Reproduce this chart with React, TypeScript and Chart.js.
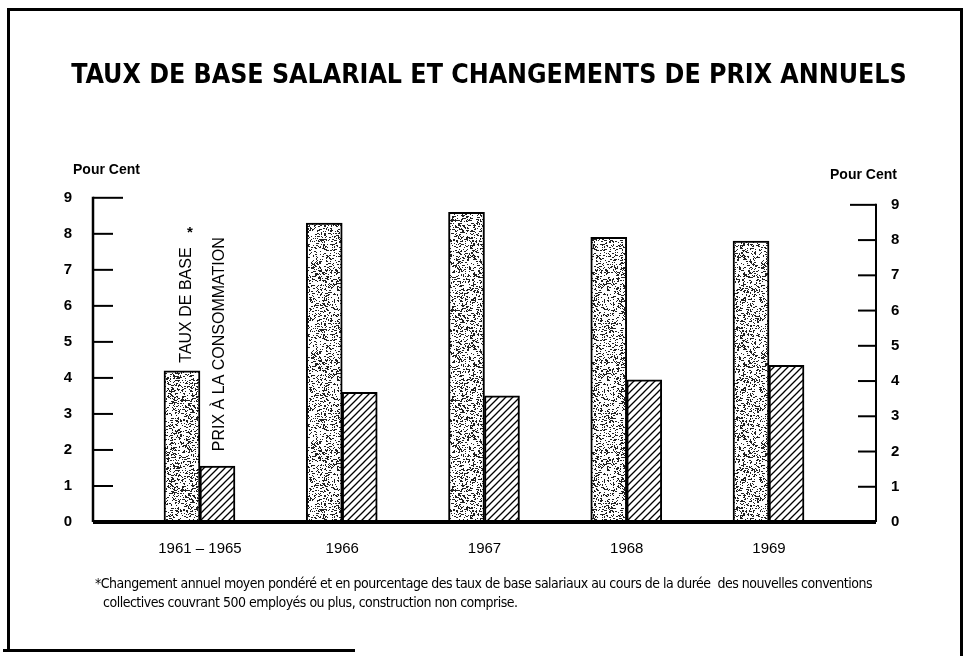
import React, { useEffect, useRef } from "react";
import { Chart, registerables } from "chart.js";

Chart.register(...registerables);

// ---- data ----
const categories = ["1961 – 1965", "1966", "1967", "1968", "1969"];
const tauxDeBase = [4.2, 8.3, 8.6, 7.9, 7.8];
const prixConsommation = [1.55, 3.6, 3.5, 3.95, 4.35];
const yTickValues = [0, 1, 2, 3, 4, 5, 6, 7, 8, 9];
const titleText = "TAUX DE BASE SALARIAL ET CHANGEMENTS DE PRIX ANNUELS";
const axisUnit = "Pour Cent";
const barLabelTaux = "TAUX DE BASE";
const barLabelPrix = "PRIX À LA CONSOMMATION";
const footnoteLines = [
  "*Changement annuel moyen pondéré et en pourcentage des taux de base salariaux au cours de la durée  des nouvelles conventions",
  "collectives couvrant 500 employés ou plus, construction non comprise.",
];

const SANS = "'Liberation Sans', Arial, sans-serif";
const NARROW = "'Liberation Sans Narrow', 'DejaVu Sans Condensed', sans-serif";

function makeStipple(): CanvasPattern | string {
  const n = 90;
  const c = document.createElement("canvas");
  c.width = n;
  c.height = n;
  const g = c.getContext("2d");
  if (!g) return "#bbb";
  g.fillStyle = "#fff";
  g.fillRect(0, 0, n, n);
  let s = 987654321;
  const rnd = () => {
    s = (Math.imul(s, 1103515245) + 12345) >>> 0;
    return (s >>> 8) / 16777216;
  };
  g.fillStyle = "#222";
  for (let i = 0; i < 2100; i++) {
    const x = Math.floor(rnd() * n);
    const y = Math.floor(rnd() * n);
    const w = rnd() < 0.25 ? 2 : 1;
    g.fillRect(x, y, w, 1);
  }
  return g.createPattern(c, "repeat") || "#bbb";
}

function makeHatch(): CanvasPattern | string {
  const n = 7;
  const c = document.createElement("canvas");
  c.width = n;
  c.height = n;
  const g = c.getContext("2d");
  if (!g) return "#888";
  g.fillStyle = "#fff";
  g.fillRect(0, 0, n, n);
  g.strokeStyle = "#000";
  g.lineWidth = 1.3;
  g.beginPath();
  g.moveTo(0, n);
  g.lineTo(n, 0);
  g.moveTo(-1, 1);
  g.lineTo(1, -1);
  g.moveTo(n - 1, n + 1);
  g.lineTo(n + 1, n - 1);
  g.stroke();
  return g.createPattern(c, "repeat") || "#888";
}

const decorPlugin = {
  id: "decor",
  beforeDraw(chart: any) {
    const ctx = chart.ctx;
    ctx.save();
    ctx.fillStyle = "#fff";
    ctx.fillRect(0, 0, chart.width, chart.height);
    ctx.restore();
  },
  afterDatasetsDraw(chart: any) {
    const ctx = chart.ctx;
    const yL = chart.scales.y;
    const yR = chart.scales.yRight;
    const area = chart.chartArea;
    ctx.save();
    ctx.strokeStyle = "#000";
    ctx.lineCap = "butt";

    // left axis line and inward ticks
    ctx.lineWidth = 2.5;
    ctx.beginPath();
    ctx.moveTo(area.left, yL.getPixelForValue(9) - 1);
    ctx.lineTo(area.left, yL.getPixelForValue(0));
    ctx.stroke();
    ctx.lineWidth = 2;
    yTickValues.forEach((v) => {
      if (v === 0) return;
      const y = yL.getPixelForValue(v);
      ctx.beginPath();
      ctx.moveTo(area.left, y);
      ctx.lineTo(area.left + (v === 9 ? 30 : 20), y);
      ctx.stroke();
    });

    // right axis line and inward ticks
    ctx.lineWidth = 2;
    ctx.beginPath();
    ctx.moveTo(area.right, yR.getPixelForValue(9) - 1);
    ctx.lineTo(area.right, yR.getPixelForValue(0));
    ctx.stroke();
    yTickValues.forEach((v) => {
      if (v === 0) return;
      const y = yR.getPixelForValue(v);
      ctx.beginPath();
      ctx.moveTo(area.right, y);
      ctx.lineTo(area.right - (v === 9 ? 26 : 18), y);
      ctx.stroke();
    });

    // baseline
    ctx.lineWidth = 4;
    ctx.beginPath();
    ctx.moveTo(area.left, yL.getPixelForValue(0));
    ctx.lineTo(area.right, yL.getPixelForValue(0));
    ctx.stroke();

    // rotated bar labels on the first group
    const b0 = chart.getDatasetMeta(0).data[0];
    const b1 = chart.getDatasetMeta(1).data[0];
    ctx.fillStyle = "#000";
    ctx.font = `16px ${SANS}`;
    ctx.textAlign = "left";
    ctx.textBaseline = "alphabetic";
    const capH = 11.5;
    // TAUX DE BASE
    ctx.save();
    ctx.translate(b0.x + 3 + capH / 2, b0.y - 8);
    ctx.rotate(-Math.PI / 2);
    ctx.fillText(barLabelTaux, 0, 0);
    const wTaux = ctx.measureText(barLabelTaux).width;
    ctx.restore();
    ctx.font = `bold 15px ${SANS}`;
    ctx.textAlign = "center";
    ctx.textBaseline = "top";
    ctx.fillText("*", b0.x + 8, b0.y - 8 - wTaux - 22);
    // PRIX A LA CONSOMMATION
    ctx.font = `16px ${SANS}`;
    ctx.textAlign = "left";
    ctx.textBaseline = "alphabetic";
    ctx.save();
    ctx.translate(b1.x + 1 + capH / 2, b1.y - 15);
    ctx.rotate(-Math.PI / 2);
    ctx.fillText(barLabelPrix, 0, 0);
    ctx.restore();

    ctx.restore();
  },
  afterDraw(chart: any) {
    const ctx = chart.ctx;
    ctx.save();
    ctx.fillStyle = "#000";
    // unit labels
    ctx.font = `bold 14px ${SANS}`;
    ctx.textAlign = "left";
    ctx.textBaseline = "middle";
    ctx.fillText(axisUnit, 73, 170);
    ctx.fillText(axisUnit, 830, 175);
    // footnote
    ctx.font = `14px ${NARROW}`;
    (ctx as any).letterSpacing = "-0.5px";
    ctx.textBaseline = "alphabetic";
    ctx.fillText(footnoteLines[0], 95, 588);
    ctx.fillText(footnoteLines[1], 103, 607);
    (ctx as any).letterSpacing = "0px";
    // frame
    ctx.strokeStyle = "#000";
    ctx.lineWidth = 3;
    ctx.beginPath();
    ctx.moveTo(8.5, 652);
    ctx.lineTo(8.5, 9.5);
    ctx.lineTo(961.5, 9.5);
    ctx.lineTo(961.5, 656);
    ctx.stroke();
    ctx.beginPath();
    ctx.moveTo(3, 650.5);
    ctx.lineTo(355, 650.5);
    ctx.stroke();
    ctx.restore();
  },
};

export default function App() {
  const ref = useRef<HTMLCanvasElement | null>(null);

  useEffect(() => {
    const canvas = ref.current;
    if (!canvas) return;
    const stipple = makeStipple();
    const hatch = makeHatch();
    const chart = new Chart(canvas, {
      type: "bar",
      data: {
        datasets: [
          {
            label: barLabelTaux,
            data: tauxDeBase.map((v, i) => ({ x: i, y: v })),
            backgroundColor: stipple as any,
            borderColor: "#000",
            borderWidth: 2,
            borderSkipped: false,
            barThickness: 36,
          },
          {
            label: barLabelPrix,
            data: prixConsommation.map((v, i) => ({ x: i, y: v })),
            backgroundColor: hatch as any,
            borderColor: "#000",
            borderWidth: 2,
            borderSkipped: false,
            barThickness: 35,
          },
        ],
      },
      options: {
        responsive: false,
        animation: false,
        events: [],
        layout: { padding: { left: 10, right: 0, top: 0, bottom: 94 } },
        plugins: {
          legend: { display: false },
          tooltip: { enabled: false },
          title: {
            display: true,
            text: titleText,
            color: "#000",
            font: { family: "'DejaVu Sans Condensed', sans-serif", size: 26.5, weight: "bold" },
            padding: { top: 60, bottom: 106 },
          },
        },
        scales: {
          x: {
            type: "linear",
            min: -0.752,
            max: 4.752,
            offset: false,
            grid: { display: false, drawTicks: false },
            border: { display: false },
            afterBuildTicks: (scale: any) => {
              scale.ticks = categories.map((_, i) => ({ value: i }));
            },
            afterFit: (scale: any) => {
              scale.height = 40;
            },
            ticks: {
              color: "#000",
              padding: 18,
              autoSkip: false,
              maxRotation: 0,
              font: { family: SANS, size: 15 },
              callback: (v: any) => categories[v] ?? "",
            },
          },
          y: {
            position: "left",
            min: 0,
            max: 9,
            grid: { display: false, drawTicks: false },
            border: { display: false },
            afterBuildTicks: (scale: any) => {
              scale.ticks = yTickValues.map((v) => ({ value: v }));
            },
            afterFit: (scale: any) => {
              scale.width = 83;
            },
            ticks: {
              color: "#000",
              padding: 21,
              font: { family: SANS, size: 15, weight: "bold" },
            },
          },
          yRight: {
            position: "right",
            min: 0,
            max: 9.2,
            grid: { display: false, drawTicks: false },
            border: { display: false },
            afterBuildTicks: (scale: any) => {
              scale.ticks = yTickValues.map((v) => ({ value: v }));
            },
            afterFit: (scale: any) => {
              scale.width = 92;
            },
            ticks: {
              color: "#000",
              padding: 15,
              font: { family: SANS, size: 15, weight: "bold" },
            },
          },
        },
      } as any,
      plugins: [decorPlugin],
    });
    return () => chart.destroy();
  }, []);

  return (
    <div style={{ position: "fixed", left: 0, top: 0, width: 968, height: 656, background: "#fff" }}>
      <canvas ref={ref} width={968} height={656} style={{ display: "block" }} />
    </div>
  );
}
